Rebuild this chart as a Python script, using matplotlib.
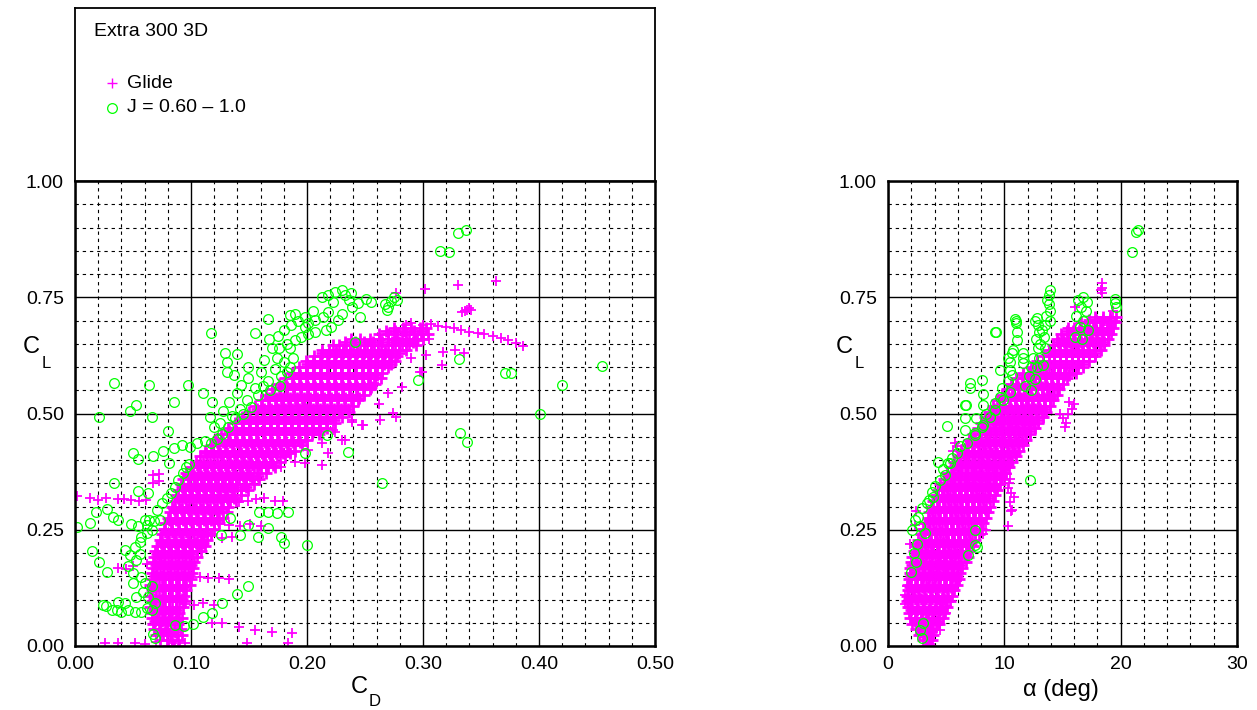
import matplotlib
matplotlib.use("Agg")
import matplotlib.pyplot as plt
from matplotlib.ticker import MultipleLocator

plt.rcParams['font.family'] = ['Liberation Sans', 'DejaVu Sans']

# ---------------- data ----------------
# Left panel (CD vs CL) : dense glide band, row by row (CL, [CD ...])
glide_left_rows = [
    (0.000, [0.080, 0.085, 0.090]),
    (0.012, [0.073, 0.079, 0.084, 0.089]),
    (0.024, [0.070, 0.076, 0.082, 0.088, 0.092]),
    (0.036, [0.068, 0.073, 0.079, 0.085, 0.091]),
    (0.048, [0.067, 0.072, 0.078, 0.083, 0.089]),
    (0.060, [0.066, 0.071, 0.077, 0.082, 0.088, 0.092]),
    (0.072, [0.066, 0.072, 0.078, 0.084, 0.090]),
    (0.084, [0.065, 0.070, 0.076, 0.081, 0.087, 0.093]),
    (0.096, [0.066, 0.072, 0.078, 0.084, 0.090, 0.095]),
    (0.108, [0.065, 0.070, 0.076, 0.082, 0.088, 0.094]),
    (0.120, [0.066, 0.072, 0.078, 0.084, 0.090, 0.096]),
    (0.132, [0.065, 0.070, 0.076, 0.082, 0.088, 0.094, 0.099]),
    (0.144, [0.066, 0.072, 0.078, 0.084, 0.090, 0.096, 0.100]),
    (0.156, [0.066, 0.071, 0.077, 0.083, 0.089, 0.095, 0.101]),
    (0.168, [0.067, 0.073, 0.079, 0.085, 0.091, 0.097, 0.102]),
    (0.180, [0.067, 0.072, 0.078, 0.084, 0.090, 0.096, 0.103]),
    (0.192, [0.068, 0.074, 0.080, 0.086, 0.092, 0.098, 0.105]),
    (0.204, [0.069, 0.075, 0.081, 0.087, 0.093, 0.099, 0.105, 0.109]),
    (0.216, [0.071, 0.077, 0.083, 0.089, 0.095, 0.101, 0.107, 0.112]),
    (0.228, [0.073, 0.079, 0.085, 0.091, 0.097, 0.103, 0.109, 0.114]),
    (0.240, [0.075, 0.081, 0.087, 0.093, 0.099, 0.105, 0.111, 0.117]),
    (0.252, [0.077, 0.083, 0.089, 0.095, 0.101, 0.107, 0.113, 0.120]),
    (0.264, [0.078, 0.084, 0.090, 0.096, 0.102, 0.108, 0.114, 0.120, 0.124]),
    (0.276, [0.080, 0.086, 0.092, 0.098, 0.104, 0.110, 0.116, 0.122, 0.128]),
    (0.288, [0.082, 0.088, 0.094, 0.100, 0.106, 0.112, 0.118, 0.124, 0.131]),
    (0.300, [0.084, 0.090, 0.096, 0.102, 0.108, 0.114, 0.120, 0.126, 0.132]),
    (0.312, [0.086, 0.092, 0.098, 0.104, 0.110, 0.116, 0.122, 0.128, 0.134, 0.139]),
    (0.324, [0.087, 0.093, 0.099, 0.105, 0.111, 0.117, 0.123, 0.129, 0.135, 0.143]),
    (0.336, [0.089, 0.095, 0.101, 0.107, 0.113, 0.119, 0.125, 0.131, 0.137, 0.143, 0.149]),
    (0.348, [0.091, 0.097, 0.103, 0.109, 0.115, 0.121, 0.127, 0.133, 0.139, 0.146, 0.154]),
    (0.360, [0.093, 0.099, 0.105, 0.111, 0.117, 0.123, 0.129, 0.135, 0.141, 0.147, 0.153, 0.159]),
    (0.372, [0.096, 0.102, 0.108, 0.114, 0.120, 0.126, 0.132, 0.138, 0.144, 0.150, 0.157, 0.165]),
    (0.384, [0.100, 0.106, 0.112, 0.118, 0.124, 0.130, 0.136, 0.142, 0.148, 0.154, 0.160, 0.166, 0.172]),
    (0.396, [0.104, 0.110, 0.116, 0.122, 0.128, 0.134, 0.140, 0.146, 0.152, 0.158, 0.164, 0.170, 0.177]),
    (0.408, [0.108, 0.114, 0.120, 0.126, 0.132, 0.138, 0.144, 0.150, 0.156, 0.162, 0.168, 0.174, 0.181]),
    (0.420, [0.112, 0.118, 0.124, 0.130, 0.136, 0.142, 0.148, 0.154, 0.160, 0.166, 0.172, 0.178, 0.184, 0.190]),
    (0.432, [0.117, 0.123, 0.129, 0.135, 0.141, 0.147, 0.153, 0.159, 0.165, 0.171, 0.177, 0.183, 0.189, 0.196]),
    (0.444, [0.121, 0.127, 0.133, 0.139, 0.145, 0.151, 0.157, 0.163, 0.169, 0.175, 0.181, 0.187, 0.193, 0.200]),
    (0.456, [0.126, 0.132, 0.138, 0.144, 0.150, 0.156, 0.162, 0.168, 0.174, 0.180, 0.186, 0.192, 0.198, 0.204, 0.210]),
    (0.468, [0.132, 0.138, 0.144, 0.150, 0.156, 0.162, 0.168, 0.174, 0.180, 0.186, 0.192, 0.198, 0.204, 0.210, 0.217]),
    (0.480, [0.138, 0.144, 0.150, 0.156, 0.162, 0.168, 0.174, 0.180, 0.186, 0.192, 0.198, 0.204, 0.210, 0.216, 0.224]),
    (0.492, [0.144, 0.150, 0.156, 0.162, 0.168, 0.174, 0.180, 0.186, 0.192, 0.198, 0.204, 0.210, 0.216, 0.222, 0.230]),
    (0.504, [0.150, 0.156, 0.162, 0.168, 0.174, 0.180, 0.186, 0.192, 0.198, 0.204, 0.210, 0.216, 0.222, 0.228, 0.236]),
    (0.516, [0.155, 0.161, 0.167, 0.173, 0.179, 0.185, 0.191, 0.197, 0.203, 0.209, 0.215, 0.221, 0.227, 0.233, 0.240]),
    (0.528, [0.160, 0.166, 0.172, 0.178, 0.184, 0.190, 0.196, 0.202, 0.208, 0.214, 0.220, 0.226, 0.232, 0.238, 0.244]),
    (0.540, [0.165, 0.171, 0.177, 0.183, 0.189, 0.195, 0.201, 0.207, 0.213, 0.219, 0.225, 0.231, 0.237, 0.243, 0.249]),
    (0.552, [0.170, 0.176, 0.182, 0.188, 0.194, 0.200, 0.206, 0.212, 0.218, 0.224, 0.230, 0.236, 0.242, 0.248, 0.254]),
    (0.564, [0.176, 0.182, 0.188, 0.194, 0.200, 0.206, 0.212, 0.218, 0.224, 0.230, 0.236, 0.242, 0.248, 0.254, 0.259]),
    (0.576, [0.181, 0.187, 0.193, 0.199, 0.205, 0.211, 0.217, 0.223, 0.229, 0.235, 0.241, 0.247, 0.253, 0.259, 0.264]),
    (0.588, [0.187, 0.193, 0.199, 0.205, 0.211, 0.217, 0.223, 0.229, 0.235, 0.241, 0.247, 0.253, 0.259, 0.265]),
    (0.600, [0.193, 0.199, 0.205, 0.211, 0.217, 0.223, 0.229, 0.235, 0.241, 0.247, 0.253, 0.259, 0.265, 0.270]),
    (0.612, [0.199, 0.205, 0.211, 0.217, 0.223, 0.229, 0.235, 0.241, 0.247, 0.253, 0.259, 0.265, 0.271, 0.276]),
    (0.624, [0.206, 0.212, 0.218, 0.224, 0.230, 0.236, 0.242, 0.248, 0.254, 0.260, 0.266, 0.272, 0.278]),
    (0.636, [0.213, 0.219, 0.225, 0.231, 0.237, 0.243, 0.249, 0.255, 0.261, 0.267, 0.273, 0.279, 0.285]),
    (0.648, [0.222, 0.228, 0.234, 0.240, 0.246, 0.252, 0.258, 0.264, 0.270, 0.276, 0.282, 0.288, 0.294]),
    (0.660, [0.238, 0.246, 0.254, 0.262, 0.270, 0.276, 0.282, 0.288, 0.294, 0.300]),
    (0.672, [0.262, 0.270, 0.278, 0.285, 0.292, 0.298, 0.304]),
    (0.684, [0.275, 0.283, 0.290, 0.297, 0.303]),
]

# Left panel : in-between rows of the dense glide band (CL, [CD ...])
glide_left_rows_mid = [
    (0.030, [0.073, 0.079, 0.086]),
    (0.054, [0.069, 0.075, 0.080, 0.086]),
    (0.078, [0.068, 0.075, 0.081, 0.087]),
    (0.102, [0.068, 0.075, 0.081, 0.087, 0.092]),
    (0.126, [0.068, 0.075, 0.081, 0.087, 0.093]),
    (0.150, [0.069, 0.075, 0.081, 0.087, 0.093, 0.098]),
    (0.174, [0.070, 0.076, 0.082, 0.088, 0.094, 0.100]),
    (0.198, [0.071, 0.077, 0.083, 0.089, 0.095, 0.101]),
    (0.222, [0.074, 0.080, 0.086, 0.092, 0.098, 0.104, 0.110]),
    (0.246, [0.078, 0.084, 0.090, 0.096, 0.102, 0.108, 0.114]),
    (0.270, [0.081, 0.087, 0.093, 0.099, 0.105, 0.111, 0.117, 0.123]),
    (0.294, [0.085, 0.091, 0.097, 0.103, 0.109, 0.115, 0.121, 0.127]),
    (0.318, [0.089, 0.095, 0.101, 0.107, 0.113, 0.119, 0.125, 0.131, 0.137]),
    (0.342, [0.092, 0.098, 0.104, 0.110, 0.116, 0.122, 0.128, 0.134, 0.140, 0.147]),
    (0.366, [0.097, 0.103, 0.109, 0.115, 0.121, 0.127, 0.133, 0.139, 0.145, 0.151, 0.158]),
    (0.390, [0.105, 0.111, 0.117, 0.123, 0.129, 0.135, 0.141, 0.147, 0.153, 0.159, 0.165, 0.171]),
    (0.414, [0.113, 0.119, 0.125, 0.131, 0.137, 0.143, 0.149, 0.155, 0.161, 0.167, 0.173, 0.179, 0.185]),
    (0.438, [0.122, 0.128, 0.134, 0.140, 0.146, 0.152, 0.158, 0.164, 0.170, 0.176, 0.182, 0.188, 0.194]),
    (0.462, [0.133, 0.139, 0.145, 0.151, 0.157, 0.163, 0.169, 0.175, 0.181, 0.187, 0.193, 0.199, 0.205, 0.211]),
    (0.486, [0.145, 0.151, 0.157, 0.163, 0.169, 0.175, 0.181, 0.187, 0.193, 0.199, 0.205, 0.211, 0.217, 0.223]),
    (0.510, [0.157, 0.163, 0.169, 0.175, 0.181, 0.187, 0.193, 0.199, 0.205, 0.211, 0.217, 0.223, 0.229, 0.235]),
    (0.534, [0.167, 0.173, 0.179, 0.185, 0.191, 0.197, 0.203, 0.209, 0.215, 0.221, 0.227, 0.233, 0.239, 0.245]),
    (0.558, [0.177, 0.183, 0.189, 0.195, 0.201, 0.207, 0.213, 0.219, 0.225, 0.231, 0.237, 0.243, 0.249, 0.255]),
    (0.582, [0.188, 0.194, 0.200, 0.206, 0.212, 0.218, 0.224, 0.230, 0.236, 0.242, 0.248, 0.254, 0.260]),
    (0.606, [0.200, 0.206, 0.212, 0.218, 0.224, 0.230, 0.236, 0.242, 0.248, 0.254, 0.260, 0.266, 0.272]),
    (0.630, [0.213, 0.219, 0.225, 0.231, 0.237, 0.243, 0.249, 0.255, 0.261, 0.267, 0.273, 0.279]),
    (0.654, [0.233, 0.241, 0.249, 0.257, 0.265, 0.273, 0.279, 0.285, 0.291]),
    (0.678, [0.268, 0.276, 0.284, 0.292, 0.299]),
]

# Left panel : scattered glide points
glide_left_cd = [0.026, 0.037, 0.052, 0.084, 0.095, 0.148, 0.184, 0.118, 0.127, 0.141, 0.155, 0.170, 0.187, 0.060, 0.070,
                 0.002, 0.013, 0.020, 0.027, 0.037, 0.042, 0.048, 0.055, 0.061,
                 0.037, 0.050, 0.062, 0.069, 0.044, 0.067, 0.072, 0.067, 0.072,
                 0.132, 0.141, 0.149, 0.156, 0.163, 0.172, 0.179,
                 0.124, 0.133, 0.142, 0.151, 0.160, 0.110, 0.118, 0.127, 0.135,
                 0.098, 0.108, 0.115, 0.124, 0.133, 0.095, 0.103, 0.110, 0.120,
                 0.222, 0.230, 0.239, 0.247, 0.213, 0.201, 0.190, 0.178, 0.218, 0.213, 0.198,
                 0.248, 0.263, 0.274, 0.277, 0.233, 0.224, 0.239,
                 0.282, 0.299, 0.303, 0.317, 0.328, 0.316, 0.297, 0.335,
                 0.300, 0.307, 0.313, 0.320, 0.327, 0.333, 0.340, 0.347, 0.353, 0.360, 0.367, 0.373, 0.380, 0.386, 0.290, 0.285,
                 0.302, 0.330, 0.363, 0.277, 0.336, 0.338, 0.341, 0.334, 0.340,
                 0.245, 0.255, 0.262, 0.270, 0.258, 0.290, 0.296, 0.305, 0.265, 0.275, 0.285]
glide_left_cl = [0.006, 0.006, 0.006, 0.006, 0.006, 0.006, 0.006, 0.049, 0.049, 0.041, 0.034, 0.030, 0.028, 0.004, 0.008,
                 0.322, 0.318, 0.313, 0.318, 0.316, 0.316, 0.314, 0.312, 0.313,
                 0.168, 0.171, 0.176, 0.178, 0.165, 0.350, 0.355, 0.368, 0.370,
                 0.312, 0.310, 0.312, 0.316, 0.318, 0.312, 0.311,
                 0.262, 0.260, 0.257, 0.262, 0.259, 0.234, 0.236, 0.232, 0.234,
                 0.150, 0.148, 0.146, 0.146, 0.145, 0.090, 0.088, 0.092, 0.089,
                 0.465, 0.443, 0.486, 0.475, 0.437, 0.422, 0.396, 0.385, 0.415, 0.389, 0.394,
                 0.475, 0.486, 0.501, 0.492, 0.443, 0.460, 0.482,
                 0.557, 0.589, 0.626, 0.632, 0.637, 0.604, 0.589, 0.630,
                 0.690, 0.692, 0.688, 0.686, 0.683, 0.680, 0.676, 0.674, 0.670, 0.667, 0.663, 0.658, 0.652, 0.646, 0.695, 0.690,
                 0.768, 0.776, 0.785, 0.760, 0.720, 0.723, 0.722, 0.718, 0.726,
                 0.530, 0.550, 0.520, 0.545, 0.565, 0.620, 0.655, 0.660, 0.660, 0.670, 0.675]

# Left panel : J = 0.60 - 1.0 points
prop_left_cd = [0.330, 0.337, 0.315, 0.322, 0.331, 0.296, 0.371, 0.376, 0.454, 0.420, 0.401, 0.332, 0.338, 0.265,
                0.251, 0.255, 0.267, 0.270, 0.272, 0.275, 0.278, 0.269,
                0.185, 0.190, 0.198, 0.201, 0.207, 0.214, 0.218, 0.213, 0.218, 0.224, 0.230, 0.233, 0.236, 0.239, 0.244,
                0.246, 0.230, 0.227, 0.221, 0.216, 0.207, 0.201, 0.195, 0.190, 0.198,
                0.186, 0.192, 0.205, 0.222, 0.238, 0.241, 0.176, 0.183, 0.175, 0.180,
                0.117, 0.155, 0.166, 0.167, 0.129, 0.140, 0.185,
                0.131, 0.131, 0.137, 0.143, 0.149, 0.149, 0.155, 0.160, 0.163, 0.166, 0.172, 0.178, 0.180, 0.174, 0.170,
                0.185, 0.188, 0.158, 0.148, 0.140, 0.133, 0.128, 0.135, 0.142, 0.152, 0.125, 0.120, 0.127, 0.122, 0.117,
                0.112, 0.105, 0.099, 0.132, 0.138, 0.145, 0.162, 0.168, 0.177, 0.183,
                0.034, 0.064, 0.097, 0.110, 0.085, 0.053, 0.047, 0.118, 0.021, 0.066, 0.116, 0.080, 0.050, 0.054,
                0.067, 0.076, 0.085, 0.092, 0.081, 0.034, 0.054, 0.063, 0.002, 0.013, 0.018, 0.028, 0.033, 0.037,
                0.048, 0.054, 0.060, 0.064, 0.068, 0.073, 0.015, 0.021, 0.028,
                0.043, 0.047, 0.052, 0.056, 0.057, 0.062, 0.066, 0.046, 0.050, 0.057, 0.060, 0.066, 0.053, 0.056, 0.062,
                0.071, 0.075, 0.079, 0.083, 0.086, 0.089, 0.093, 0.096, 0.098,
                0.024, 0.027, 0.032, 0.036, 0.040, 0.046, 0.052, 0.057, 0.062, 0.066, 0.043, 0.037, 0.053, 0.059, 0.063,
                0.069, 0.050,
                0.067, 0.069, 0.086, 0.094, 0.102, 0.110, 0.118, 0.127, 0.140, 0.149,
                0.134, 0.159, 0.166, 0.174, 0.184, 0.149, 0.166, 0.158, 0.178, 0.180, 0.200, 0.126, 0.142,
                0.235, 0.198, 0.217]
prop_left_cl = [0.888, 0.894, 0.849, 0.847, 0.617, 0.572, 0.587, 0.587, 0.602, 0.561, 0.499, 0.458, 0.439, 0.350,
                0.747, 0.739, 0.735, 0.728, 0.742, 0.750, 0.745, 0.722,
                0.712, 0.715, 0.708, 0.694, 0.701, 0.708, 0.719, 0.751, 0.755, 0.762, 0.766, 0.755, 0.744, 0.730, 0.737,
                0.708, 0.715, 0.701, 0.687, 0.680, 0.676, 0.672, 0.665, 0.658, 0.687,
                0.690, 0.700, 0.720, 0.740, 0.760, 0.654, 0.640, 0.650, 0.667, 0.680,
                0.673, 0.673, 0.703, 0.660, 0.630, 0.628, 0.641,
                0.610, 0.590, 0.583, 0.562, 0.577, 0.600, 0.555, 0.590, 0.615, 0.570, 0.595, 0.580, 0.610, 0.620, 0.640,
                0.600, 0.620, 0.540, 0.530, 0.545, 0.525, 0.505, 0.495, 0.510, 0.515, 0.480, 0.470, 0.455, 0.445, 0.437,
                0.441, 0.437, 0.428, 0.470, 0.490, 0.500, 0.560, 0.550, 0.560, 0.590,
                0.565, 0.561, 0.561, 0.544, 0.525, 0.518, 0.505, 0.525, 0.492, 0.492, 0.492, 0.462, 0.415, 0.402,
                0.409, 0.419, 0.425, 0.432, 0.394, 0.350, 0.334, 0.330, 0.256, 0.264, 0.288, 0.295, 0.278, 0.272,
                0.262, 0.258, 0.270, 0.272, 0.268, 0.270, 0.204, 0.180, 0.159,
                0.206, 0.196, 0.213, 0.224, 0.235, 0.242, 0.249, 0.171, 0.156, 0.149, 0.135, 0.128, 0.184, 0.198, 0.260,
                0.292, 0.307, 0.318, 0.328, 0.342, 0.357, 0.371, 0.385, 0.392,
                0.088, 0.085, 0.077, 0.077, 0.074, 0.077, 0.074, 0.074, 0.081, 0.077, 0.092, 0.095, 0.106, 0.117, 0.106,
                0.092, 0.135,
                0.026, 0.018, 0.045, 0.042, 0.047, 0.062, 0.071, 0.092, 0.112, 0.129,
                0.275, 0.288, 0.288, 0.286, 0.288, 0.260, 0.254, 0.234, 0.234, 0.221, 0.217, 0.238, 0.238,
                0.418, 0.415, 0.454]

# Right panel (alpha vs CL) : dense glide band, row by row (CL, [alpha ...])
glide_right_rows = [
    (0.000, [3.3, 3.6]),
    (0.012, [3.0, 3.4, 3.8]),
    (0.024, [2.7, 3.2, 3.6, 3.9]),
    (0.036, [2.4, 2.9, 3.4, 3.9]),
    (0.048, [2.1, 2.6, 3.1, 3.6, 4.1, 4.4]),
    (0.060, [1.9, 2.4, 2.9, 3.4, 3.9, 4.4, 4.7]),
    (0.072, [1.8, 2.3, 2.8, 3.3, 3.8, 4.3, 4.8]),
    (0.084, [1.7, 2.1, 2.6, 3.1, 3.6, 4.1, 4.6, 5.1]),
    (0.096, [1.6, 2.0, 2.5, 3.0, 3.5, 4.0, 4.5, 5.0, 5.3]),
    (0.108, [1.6, 2.1, 2.6, 3.1, 3.6, 4.1, 4.6, 5.1, 5.5]),
    (0.120, [1.7, 2.2, 2.7, 3.2, 3.7, 4.2, 4.7, 5.2, 5.7]),
    (0.132, [1.7, 2.0, 2.5, 3.0, 3.5, 4.0, 4.5, 5.0, 5.5, 5.9]),
    (0.144, [1.8, 2.3, 2.8, 3.3, 3.8, 4.3, 4.8, 5.3, 5.8, 6.1]),
    (0.156, [1.9, 2.2, 2.7, 3.2, 3.7, 4.2, 4.7, 5.2, 5.7, 6.2]),
    (0.168, [1.9, 2.4, 2.9, 3.4, 3.9, 4.4, 4.9, 5.4, 5.9, 6.4]),
    (0.180, [2.0, 2.3, 2.8, 3.3, 3.8, 4.3, 4.8, 5.3, 5.8, 6.3, 6.7]),
    (0.192, [2.1, 2.5, 3.0, 3.5, 4.0, 4.5, 5.0, 5.5, 6.0, 6.5, 6.9]),
    (0.204, [2.2, 2.7, 3.2, 3.7, 4.2, 4.7, 5.2, 5.7, 6.2, 6.7, 7.0]),
    (0.216, [2.4, 2.9, 3.4, 3.9, 4.4, 4.9, 5.4, 5.9, 6.4, 6.9, 7.3]),
    (0.228, [2.6, 3.0, 3.5, 4.0, 4.5, 5.0, 5.5, 6.0, 6.5, 7.0, 7.5]),
    (0.240, [2.8, 3.2, 3.7, 4.2, 4.7, 5.2, 5.7, 6.2, 6.7, 7.2, 7.8]),
    (0.252, [3.0, 3.4, 3.9, 4.4, 4.9, 5.4, 5.9, 6.4, 6.9, 7.4, 8.0]),
    (0.264, [3.2, 3.6, 4.1, 4.6, 5.1, 5.6, 6.1, 6.6, 7.1, 7.6, 8.2]),
    (0.276, [3.4, 3.8, 4.3, 4.8, 5.3, 5.8, 6.3, 6.8, 7.3, 7.8, 8.4]),
    (0.288, [3.5, 4.0, 4.5, 5.0, 5.5, 6.0, 6.5, 7.0, 7.5, 8.0, 8.6]),
    (0.300, [3.7, 4.2, 4.7, 5.2, 5.7, 6.2, 6.7, 7.2, 7.7, 8.2, 8.8]),
    (0.312, [3.9, 4.4, 4.9, 5.4, 5.9, 6.4, 6.9, 7.4, 7.9, 8.4, 9.0]),
    (0.324, [4.1, 4.6, 5.1, 5.6, 6.1, 6.6, 7.1, 7.6, 8.1, 8.6, 9.2]),
    (0.336, [4.3, 4.8, 5.3, 5.8, 6.3, 6.8, 7.3, 7.8, 8.3, 8.8, 9.4]),
    (0.348, [4.5, 5.0, 5.5, 6.0, 6.5, 7.0, 7.5, 8.0, 8.5, 9.0, 9.6]),
    (0.360, [4.8, 5.3, 5.8, 6.3, 6.8, 7.3, 7.8, 8.3, 8.8, 9.3, 9.8]),
    (0.372, [5.1, 5.6, 6.1, 6.6, 7.1, 7.6, 8.1, 8.6, 9.1, 9.6, 10.1]),
    (0.384, [5.4, 5.9, 6.4, 6.9, 7.4, 7.9, 8.4, 8.9, 9.4, 9.9, 10.4]),
    (0.396, [5.7, 6.2, 6.7, 7.2, 7.7, 8.2, 8.7, 9.2, 9.7, 10.2, 10.7]),
    (0.408, [6.0, 6.5, 7.0, 7.5, 8.0, 8.5, 9.0, 9.5, 10.0, 10.5, 11.0]),
    (0.420, [6.3, 6.8, 7.3, 7.8, 8.3, 8.8, 9.3, 9.8, 10.3, 10.8, 11.3]),
    (0.432, [6.7, 7.2, 7.7, 8.2, 8.7, 9.2, 9.7, 10.2, 10.7, 11.2, 11.6]),
    (0.444, [7.0, 7.5, 8.0, 8.5, 9.0, 9.5, 10.0, 10.5, 11.0, 11.5, 11.9]),
    (0.456, [7.3, 7.8, 8.3, 8.8, 9.3, 9.8, 10.3, 10.8, 11.3, 11.8, 12.2]),
    (0.468, [7.7, 8.2, 8.7, 9.2, 9.7, 10.2, 10.7, 11.2, 11.7, 12.2, 12.6]),
    (0.480, [8.0, 8.5, 9.0, 9.5, 10.0, 10.5, 11.0, 11.5, 12.0, 12.5, 12.9]),
    (0.492, [8.3, 8.8, 9.3, 9.8, 10.3, 10.8, 11.3, 11.8, 12.3, 12.8, 13.3]),
    (0.504, [8.7, 9.2, 9.7, 10.2, 10.7, 11.2, 11.7, 12.2, 12.7, 13.2, 13.6]),
    (0.516, [9.0, 9.5, 10.0, 10.5, 11.0, 11.5, 12.0, 12.5, 13.0, 13.5, 13.9]),
    (0.528, [9.4, 9.9, 10.4, 10.9, 11.4, 11.9, 12.4, 12.9, 13.4, 13.9, 14.2]),
    (0.540, [9.8, 10.3, 10.8, 11.3, 11.8, 12.3, 12.8, 13.3, 13.8, 14.3, 14.5]),
    (0.552, [10.2, 10.7, 11.2, 11.7, 12.2, 12.7, 13.2, 13.7, 14.2, 14.7]),
    (0.564, [10.6, 11.1, 11.6, 12.1, 12.6, 13.1, 13.6, 14.1, 14.6, 15.0]),
    (0.576, [11.0, 11.5, 12.0, 12.5, 13.0, 13.5, 14.0, 14.5, 15.0, 15.4]),
    (0.588, [11.6, 12.1, 12.6, 13.1, 13.6, 14.1, 14.6, 15.1, 15.6, 16.2]),
    (0.600, [12.3, 12.8, 13.3, 13.8, 14.3, 14.8, 15.3, 15.8, 16.3, 16.8]),
    (0.612, [12.8, 13.3, 13.8, 14.3, 14.8, 15.3, 15.8, 16.3, 16.8, 17.3]),
    (0.624, [13.3, 13.8, 14.3, 14.8, 15.3, 15.8, 16.3, 16.8, 17.3, 17.8]),
    (0.636, [13.8, 14.3, 14.8, 15.3, 15.8, 16.3, 16.8, 17.3, 17.8, 18.3]),
    (0.648, [14.2, 14.7, 15.2, 15.7, 16.2, 16.7, 17.2, 17.7, 18.2, 18.6]),
    (0.660, [14.5, 15.0, 15.5, 16.0, 16.5, 17.0, 17.5, 18.0, 18.5, 18.9]),
    (0.672, [14.9, 15.4, 15.9, 16.4, 16.9, 17.4, 17.9, 18.4, 18.9, 19.2]),
    (0.684, [15.5, 16.0, 16.5, 17.0, 17.6, 18.2, 18.8, 19.3]),
    (0.696, [16.6, 17.2, 17.8, 18.4, 19.0, 19.5]),
    (0.708, [17.8, 18.5, 19.1, 19.6]),
]

# Right panel : in-between rows of the dense glide band (CL, [alpha ...])
glide_right_rows_mid = [
    (0.030, [2.8, 3.3, 3.7]),
    (0.054, [2.3, 2.8, 3.3, 3.8, 4.2]),
    (0.078, [2.0, 2.5, 3.0, 3.5, 4.0, 4.5]),
    (0.102, [1.8, 2.3, 2.8, 3.3, 3.8, 4.3, 4.8]),
    (0.126, [1.9, 2.4, 2.9, 3.4, 3.9, 4.4, 4.9, 5.4]),
    (0.150, [2.0, 2.5, 3.0, 3.5, 4.0, 4.5, 5.0, 5.5, 5.9]),
    (0.174, [2.1, 2.6, 3.1, 3.6, 4.1, 4.6, 5.1, 5.6, 6.1]),
    (0.198, [2.4, 2.8, 3.3, 3.8, 4.3, 4.8, 5.3, 5.8, 6.3, 6.7]),
    (0.222, [2.7, 3.2, 3.7, 4.2, 4.7, 5.2, 5.7, 6.2, 6.7, 7.1]),
    (0.246, [3.1, 3.5, 4.0, 4.5, 5.0, 5.5, 6.0, 6.5, 7.0, 7.5]),
    (0.270, [3.5, 3.9, 4.4, 4.9, 5.4, 5.9, 6.4, 6.9, 7.4, 7.9]),
    (0.294, [3.8, 4.3, 4.8, 5.3, 5.8, 6.3, 6.8, 7.3, 7.8, 8.3]),
    (0.318, [4.2, 4.7, 5.2, 5.7, 6.2, 6.7, 7.2, 7.7, 8.2, 8.7]),
    (0.342, [4.6, 5.1, 5.6, 6.1, 6.6, 7.1, 7.6, 8.1, 8.6, 9.1]),
    (0.366, [5.2, 5.7, 6.2, 6.7, 7.2, 7.7, 8.2, 8.7, 9.2, 9.7]),
    (0.390, [5.8, 6.3, 6.8, 7.3, 7.8, 8.3, 8.8, 9.3, 9.8, 10.3]),
    (0.414, [6.4, 6.9, 7.4, 7.9, 8.4, 8.9, 9.4, 9.9, 10.4, 10.9]),
    (0.438, [7.1, 7.6, 8.1, 8.6, 9.1, 9.6, 10.1, 10.6, 11.1, 11.5]),
    (0.462, [7.8, 8.3, 8.8, 9.3, 9.8, 10.3, 10.8, 11.3, 11.8, 12.2]),
    (0.486, [8.4, 8.9, 9.4, 9.9, 10.4, 10.9, 11.4, 11.9, 12.4, 12.9]),
    (0.510, [9.1, 9.6, 10.1, 10.6, 11.1, 11.6, 12.1, 12.6, 13.1, 13.5]),
    (0.534, [9.9, 10.4, 10.9, 11.4, 11.9, 12.4, 12.9, 13.4, 13.9]),
    (0.558, [10.7, 11.2, 11.7, 12.2, 12.7, 13.2, 13.7, 14.2, 14.6]),
    (0.582, [11.6, 12.1, 12.6, 13.1, 13.6, 14.1, 14.6, 15.1, 15.6]),
    (0.606, [12.8, 13.3, 13.8, 14.3, 14.8, 15.3, 15.8, 16.3, 16.8]),
    (0.630, [13.8, 14.3, 14.8, 15.3, 15.8, 16.3, 16.8, 17.3, 17.8]),
    (0.654, [14.6, 15.1, 15.6, 16.1, 16.6, 17.1, 17.6, 18.1, 18.6]),
    (0.678, [15.4, 15.9, 16.4, 16.9, 17.4, 17.9, 18.4, 18.9]),
    (0.702, [17.3, 17.9, 18.5, 19.1]),
]

glide_right_alpha = [18.4, 18.4, 18.4, 18.3, 16.1, 19.3, 19.5, 19.2, 18.9,
                     10.2, 10.4, 10.6, 10.5, 10.3, 10.6, 10.8, 10.1, 10.35, 10.63, 10.0, 10.5,
                     14.8, 15.0, 15.3, 15.5, 15.8, 15.2, 16.0, 15.6,
                     8.2, 8.4, 8.0, 7.6, 6.3, 5.9, 5.6, 5.04, 4.47, 4.5, 4.3, 3.9, 3.47, 3.6, 4.47, 5.0,
                     5.76, 6.0, 5.6, 5.9, 1.9, 2.3, 2.4, 1.5, 1.5, 1.6]
glide_right_cl = [0.760, 0.770, 0.780, 0.765, 0.730, 0.720, 0.700, 0.685, 0.690,
                  0.370, 0.350, 0.330, 0.310, 0.340, 0.290, 0.320, 0.360, 0.257, 0.292, 0.380, 0.360,
                  0.500, 0.490, 0.480, 0.500, 0.510, 0.470, 0.520, 0.525,
                  0.240, 0.250, 0.270, 0.290, 0.190, 0.140, 0.120, 0.085, 0.034, 0.060, 0.050, 0.030, 0.000, 0.005, 0.070, 0.070,
                  0.436, 0.407, 0.420, 0.430, 0.220, 0.260, 0.290, 0.110, 0.090, 0.130]

prop_right_alpha = [21.0, 21.3, 21.5, 9.3, 11.0, 11.0, 10.9, 9.2,
                    13.9, 13.8, 13.7, 13.8, 13.9, 13.6, 13.9, 13.5, 13.2, 12.8, 12.6, 12.9, 13.0, 13.4, 12.7, 13.1,
                    12.9, 13.5, 12.5, 13.0, 12.3, 12.8, 13.3, 12.1, 12.6, 11.8, 12.3,
                    16.3, 16.8, 17.1, 16.6, 17.0, 16.2, 16.8, 16.5, 17.2, 16.1, 16.7, 19.5, 19.5, 19.6,
                    10.5, 10.7, 11.6, 11.07, 11.07, 10.78, 11.64, 10.35, 11.64, 10.49, 9.63, 10.63, 10.35, 9.77,
                    10.49, 9.91, 9.2, 8.19, 8.05, 7.05, 7.05, 6.62, 8.19, 6.62, 5.04, 6.62, 7.48, 6.76, 8.05, 8.77,
                    9.2, 9.63, 8.2, 7.48, 7.6, 8.4, 6.68,
                    4.33, 5.33, 5.9, 6.2, 5.5, 5.19, 4.9, 4.47, 3.76, 3.9, 3.33, 2.9, 2.61, 2.75, 3.18, 4.0, 4.7,
                    3.5, 2.3, 2.1, 2.5, 2.2, 2.4, 2.0,
                    7.48, 6.9, 7.62, 7.48, 12.2, 2.75, 2.9, 3.0]
prop_right_cl = [0.848, 0.890, 0.895, 0.675, 0.700, 0.694, 0.703, 0.675,
                 0.766, 0.755, 0.745, 0.735, 0.720, 0.710, 0.700, 0.690, 0.680, 0.705, 0.700, 0.690, 0.675, 0.665,
                 0.660, 0.650, 0.640, 0.640, 0.620, 0.620, 0.600, 0.600, 0.605, 0.580, 0.575, 0.560, 0.550,
                 0.745, 0.750, 0.740, 0.730, 0.720, 0.710, 0.700, 0.685, 0.680, 0.665, 0.660, 0.747, 0.737, 0.728,
                 0.610, 0.630, 0.620, 0.676, 0.658, 0.637, 0.630, 0.619, 0.608, 0.594, 0.594, 0.583, 0.569, 0.554,
                 0.547, 0.529, 0.522, 0.543, 0.572, 0.565, 0.554, 0.518, 0.518, 0.490, 0.473, 0.465, 0.454, 0.436,
                 0.472, 0.493, 0.508, 0.536, 0.475, 0.458, 0.490, 0.500, 0.518,
                 0.396, 0.393, 0.414, 0.430, 0.405, 0.393, 0.368, 0.357, 0.332, 0.321, 0.307, 0.296, 0.278, 0.257,
                 0.242, 0.345, 0.380, 0.315, 0.270, 0.250, 0.220, 0.200, 0.180, 0.160,
                 0.217, 0.196, 0.213, 0.249, 0.357, 0.034, 0.017, 0.050]

title_text = "Extra 300 3D"
legend_labels = ["Glide", "J = 0.60 \u2013 1.0"]
left_xticks = [0.0, 0.1, 0.2, 0.3, 0.4, 0.5]
right_xticks = [0, 10, 20, 30]
yticks = [0.0, 0.25, 0.5, 0.75, 1.0]

# ---------------- figure ----------------
W, H = 1257, 710
fig = plt.figure(figsize=(W / 100, H / 100), dpi=100)

def box(x0, y0, x1, y1):
    return [x0 / W, 1 - y1 / H, (x1 - x0) / W, (y1 - y0) / H]

MAG = '#ff00ff'
GRN = '#00ff00'
FS = 14
LFS = 17
core_kw = dict(ls='none', marker='+', ms=8.2, mew=2.0, color=MAG)
plus_kw = dict(ls='none', marker='+', ms=6.8, mew=1.3, color=MAG)
circ_kw = dict(ls='none', marker='o', ms=7.0, mew=0.9, mfc='none', mec=GRN)


def flatten(rows):
    xs, ys = [], []
    for yv, xl in rows:
        for xv in xl:
            xs.append(xv)
            ys.append(yv)
    return xs, ys


def style_axes(ax, xlim, xmajor, xminor, xticks, xfmt):
    ax.set_xlim(*xlim)
    ax.set_ylim(0, 1.0)
    ax.xaxis.set_major_locator(MultipleLocator(xmajor))
    ax.xaxis.set_minor_locator(MultipleLocator(xminor))
    ax.yaxis.set_major_locator(MultipleLocator(0.25))
    ax.yaxis.set_minor_locator(MultipleLocator(0.05))
    ax.set_xticks(xticks)
    ax.set_xticklabels([xfmt(v) for v in xticks], fontsize=FS)
    ax.set_yticks(yticks)
    ax.set_yticklabels(["%.2f" % v for v in yticks], fontsize=FS)
    ax.tick_params(which='both', length=0)
    ax.tick_params(axis='x', pad=7)
    ax.tick_params(axis='y', pad=8)
    ax.grid(which='major', color='black', lw=1.0, ls='-')
    ax.grid(which='minor', color='black', lw=0.8, ls=(0, (3, 3.5)))
    ax.set_axisbelow(True)
    for s in ax.spines.values():
        s.set_linewidth(1.8)
        s.set_zorder(5)


# Left panel
axL = fig.add_axes(box(75, 181, 655, 646))
gx, gy = flatten(glide_left_rows)
axL.plot(gx, gy, **core_kw)
gx, gy = flatten(glide_left_rows_mid)
axL.plot(gx, gy, **core_kw)
axL.plot(glide_left_cd, glide_left_cl, **plus_kw)
axL.plot(prop_left_cd, prop_left_cl, **circ_kw)
style_axes(axL, (0, 0.5), 0.1, 0.02, left_xticks, lambda v: "%.2f" % v)

# Right panel
axR = fig.add_axes(box(888, 181, 1237, 646))
rx, ry = flatten(glide_right_rows)
axR.plot(rx, ry, **core_kw)
rx, ry = flatten(glide_right_rows_mid)
axR.plot(rx, ry, **core_kw)
axR.plot(glide_right_alpha, glide_right_cl, **plus_kw)
axR.plot(prop_right_alpha, prop_right_cl, **circ_kw)
style_axes(axR, (0, 30), 10, 2, right_xticks, lambda v: "%d" % v)

# Legend / title box
axT = fig.add_axes(box(75, 8, 655, 181))
axT.set_xticks([])
axT.set_yticks([])
for s in axT.spines.values():
    s.set_linewidth(1.3)
axT.set_xlim(0, 580)
axT.set_ylim(173, 0)
axT.text(19, 24, title_text, fontsize=FS, va='center', ha='left')
axT.plot([37], [75], ls='none', marker='+', ms=7.5, mew=1.0, color=MAG)
axT.text(52, 75, legend_labels[0], fontsize=FS, va='center', ha='left')
axT.plot([37], [100], ls='none', marker='o', ms=7.0, mew=0.9, mfc='none', mec=GRN)
axT.text(52, 100, legend_labels[1], fontsize=FS, va='center', ha='left')


def ftext(x, y, s, **kw):
    fig.text(x / W, 1 - y / H, s, **kw)


# Axis labels
ftext(31, 347, "C", fontsize=LFS, ha='center', va='center')
ftext(46, 363, "L", fontsize=12, ha='center', va='center')
ftext(844, 347, "C", fontsize=LFS, ha='center', va='center')
ftext(859, 363, "L", fontsize=12, ha='center', va='center')
ftext(359, 687, "C", fontsize=LFS, ha='center', va='center')
ftext(375, 701, "D", fontsize=12, ha='center', va='center')
ftext(1061, 690, "\u03b1 (deg)", fontsize=LFS, ha='center', va='center')

fig.savefig("out.png", dpi=100)
